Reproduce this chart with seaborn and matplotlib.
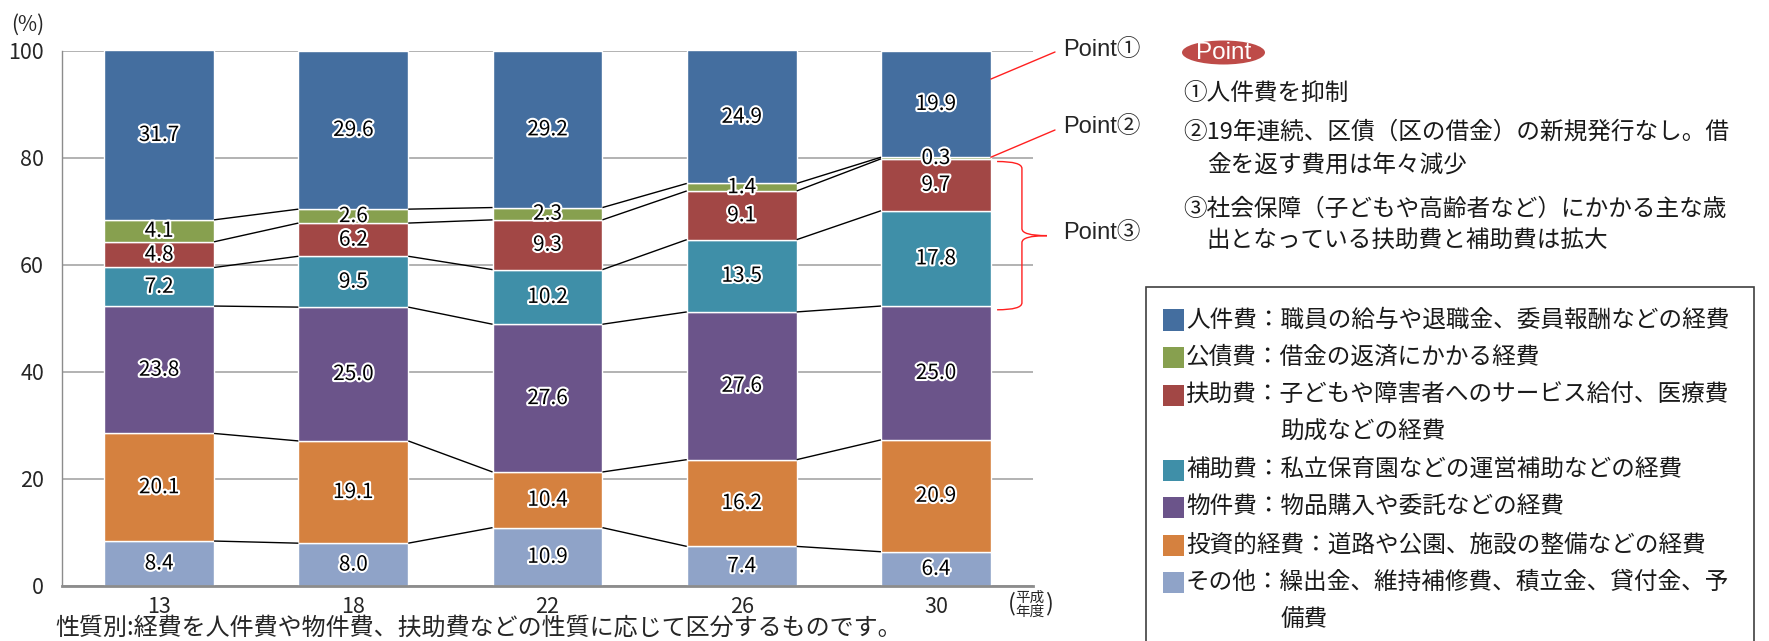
import numpy as np
import matplotlib
matplotlib.use("Agg")
import matplotlib.pyplot as plt
import matplotlib.patheffects as pe
from matplotlib.patches import Rectangle, Ellipse, PathPatch
from matplotlib.path import Path
import seaborn as sns

# 年度（平成）
years = ["13", "18", "22", "26", "30"]

# 性質別経費の構成比（%）— 下から積み上げる順
categories = ["その他", "投資的経費", "物件費", "補助費", "扶助費", "公債費", "人件費"]
other = [8.4, 8.0, 10.9, 7.4, 6.4]
investment = [20.1, 19.1, 10.4, 16.2, 20.9]
supplies = [23.8, 25.0, 27.6, 27.6, 25.0]
subsidies = [7.2, 9.5, 10.2, 13.5, 17.8]
assistance = [4.8, 6.2, 9.3, 9.1, 9.7]
debt = [4.1, 2.6, 2.3, 1.4, 0.3]
personnel = [31.7, 29.6, 29.2, 24.9, 19.9]
series = [other, investment, supplies, subsidies, assistance, debt, personnel]

colors = ["#8FA3C8", "#D5813F", "#6B548A", "#3F8FA8", "#A24745", "#87A04F", "#446E9F"]

# 凡例（上から）：区分、説明、折り返し行
legend_rows = [
    ("人件費", "人件費：職員の給与や退職金、委員報酬などの経費", None),
    ("公債費", "公債費：借金の返済にかかる経費", None),
    ("扶助費", "扶助費：子どもや障害者へのサービス給付、医療費", "助成などの経費"),
    ("補助費", "補助費：私立保育園などの運営補助などの経費", None),
    ("物件費", "物件費：物品購入や委託などの経費", None),
    ("投資的経費", "投資的経費：道路や公園、施設の整備などの経費", None),
    ("その他", "その他：繰出金、維持補修費、積立金、貸付金、予", "備費"),
]

point_lines = [
    ("①人件費を抑制", 0),
    ("②19年連続、区債（区の借金）の新規発行なし。借", 0),
    ("金を返す費用は年々減少", 1),
    ("③社会保障（子どもや高齢者など）にかかる主な歳", 0),
    ("出となっている扶助費と補助費は拡大", 1),
]

footnote = "性質別:経費を人件費や物件費、扶助費などの性質に応じて区分するものです。"

sns.set_style("white")
plt.rcParams["font.family"] = ["Noto Sans CJK JP", "DejaVu Sans"]

W, H = 1769, 641
fig = plt.figure(figsize=(W / 100, H / 100), dpi=100)


def f(x, y):
    """pixel position -> figure fraction"""
    return (x / W, 1 - y / H)


ax = fig.add_axes([62 / W, 1 - 586 / H, (1033 - 62) / W, (586 - 50.7) / H])

bar_w = 0.566
bottom = np.zeros(len(years))
levels = []
for name, vals, col in zip(categories, series, colors):
    vals = np.asarray(vals, dtype=float)
    sns.barplot(x=years, y=vals, bottom=bottom.copy(), color=col, saturation=1,
                width=bar_w, errorbar=None, ax=ax, zorder=2)
    for i, (b, v) in enumerate(zip(bottom, vals)):
        ax.text(i, b + v / 2, f"{v:.1f}", ha="center", va="center", fontsize=15,
                color="black", zorder=5,
                path_effects=[pe.withStroke(linewidth=3, foreground="white")])
    bottom = bottom + vals
    levels.append(bottom.copy())

# 各区分の境界を年度間で結ぶ線
for lev in levels[:-1]:
    for i in range(len(years) - 1):
        ax.plot([i + bar_w / 2, i + 1 - bar_w / 2], [lev[i], lev[i + 1]],
                color="black", lw=1.0, zorder=3, solid_capstyle="butt")

ax.set_xlim(-0.5, len(years) - 0.5)
ax.set_ylim(0, 100)
ax.set_yticks(range(0, 101, 20))
ax.set_yticks(range(10, 100, 20), minor=True)
ax.yaxis.grid(True, which="major", color="#A6A6A6", lw=1.2)
ax.set_axisbelow(True)
ax.tick_params(axis="y", which="both", direction="out", length=8, width=1,
               color="#8C8C8C", labelsize=15.5, pad=5)
ax.tick_params(axis="x", length=0, labelsize=15.5, pad=7)
ax.set_xlabel("")
ax.set_ylabel("")
for s in ("top", "right"):
    ax.spines[s].set_visible(False)
ax.spines["left"].set_color("#8C8C8C")
ax.spines["left"].set_linewidth(1)
ax.spines["bottom"].set_color("#8C8C8C")
ax.spines["bottom"].set_linewidth(2)

fig.text(*f(28, 25), "(%)", ha="center", va="center", fontsize=15)

# 年度の単位
fig.text(*f(1030, 598), "平成", ha="center", va="center", fontsize=10.5)
fig.text(*f(1030, 612), "年度", ha="center", va="center", fontsize=10.5)
fig.text(*f(1012, 604), "(", ha="center", va="center", fontsize=17)
fig.text(*f(1049, 604), ")", ha="center", va="center", fontsize=17)

fig.text(*f(55, 628), footnote, ha="left", va="center", fontsize=17.3)

# Point 注記
last = len(years) - 1
edge = last + bar_w / 2
red = "#FF2020"
ax.annotate("", xy=(edge, 94.7), xycoords="data", xytext=f(1055, 52),
            textcoords="figure fraction",
            arrowprops=dict(arrowstyle="-", color=red, lw=1, shrinkA=0, shrinkB=0))
ax.annotate("", xy=(edge, levels[5][last]), xycoords="data", xytext=f(1055, 130),
            textcoords="figure fraction",
            arrowprops=dict(arrowstyle="-", color=red, lw=1, shrinkA=0, shrinkB=0))

# 扶助費・補助費を囲む波括弧
y_top = levels[4][last] - 0.5
y_bot = levels[2][last] - 0.7
y_mid = (y_top + y_bot) / 2
x0 = edge + 0.032
xm = x0 + 0.128
xt = x0 + 0.257
r = 1.3
verts = [(x0, y_top), (xm, y_top), (xm, y_top - r),
         (xm, y_mid + r), (xm, y_mid), (xt, y_mid),
         (xm, y_mid), (xm, y_mid - r),
         (xm, y_bot + r), (xm, y_bot), (x0, y_bot)]
codes = [Path.MOVETO, Path.CURVE3, Path.CURVE3,
         Path.LINETO, Path.CURVE3, Path.CURVE3,
         Path.CURVE3, Path.CURVE3,
         Path.LINETO, Path.CURVE3, Path.CURVE3]
ax.add_patch(PathPatch(Path(verts, codes), fill=False, edgecolor=red, lw=1,
                       clip_on=False, zorder=4))

point_font = ["Liberation Sans", "Noto Sans CJK JP"]
for label, yy in (("Point①", 50), ("Point②", 127), ("Point③", 233)):
    fig.text(*f(1063, yy), label, ha="left", va="center", fontsize=17, family=point_font)

fig.add_artist(Ellipse(f(1223.5, 52.5), 83 / W, 24 / H, transform=fig.transFigure,
                       facecolor="#BE4B48", edgecolor="none"))
fig.text(*f(1223.5, 53), "Point", ha="center", va="center", fontsize=17.5,
         color="white", family=["Liberation Sans"])

em = 17 * 100 / 72
for (txt, indent), yy in zip(point_lines, [93, 132, 165, 209, 241]):
    fig.text(*f(1183 + indent * em, yy), txt, ha="left", va="center", fontsize=17,
             color="#1A1A1A")

# 凡例ボックス
fig.add_artist(Rectangle(f(1146, 700), (1754 - 1146) / W, (700 - 287) / H,
                         transform=fig.transFigure, fill=False,
                         edgecolor="#404040", lw=1.2))
color_of = dict(zip(categories, colors))
row_y = 320
step = 37.5
for name, line1, line2 in legend_rows:
    fig.add_artist(Rectangle(f(1163, row_y + 10.5), 21 / W, 21 / H,
                             transform=fig.transFigure, facecolor=color_of[name],
                             edgecolor="none"))
    fig.text(*f(1186, row_y), line1, ha="left", va="center", fontsize=17,
             color="#1A1A1A")
    row_y += step
    if line2:
        fig.text(*f(1186 + 4 * em, row_y), line2, ha="left", va="center",
                 fontsize=17, color="#1A1A1A")
        row_y += step

fig.savefig("out.png", dpi=100)
